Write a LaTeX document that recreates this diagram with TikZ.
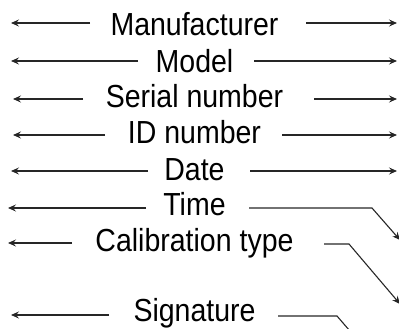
\documentclass[tikz,border=0pt]{standalone}
\usepackage{fontspec}
\setmainfont{Liberation Sans}
\usetikzlibrary{arrows.meta}
\tikzset{
  fieldlbl/.style={font=\fontsize{28.5}{30}\selectfont, anchor=base, inner sep=0pt, yscale=1.12},
  fieldarr/.style={draw=black!85, line width=1.1pt, -{Stealth[length=8pt, width=7pt, inset=3pt]}},
}
% name, y of arrows, baseline, label, left line start, left tip
\newcommand{\fieldrow}[6]{%
  \node[fieldlbl] (#1) at (194.5,#3) {#4};
  \coordinate (#1la) at (#5,#2);
  \coordinate (#1lt) at (#6,#2);
  \draw[fieldarr] (#1la) -- (#1lt);
}

\begin{document}
\begin{tikzpicture}[x=1pt, y=-1pt]
  \useasboundingbox (0,0) rectangle (399,329);
  \clip (0,0) rectangle (399,329);
  \fieldrow{man}{23}{36}{Manufacturer}{90}{11}
  \fieldrow{mod}{61}{73}{Model}{138}{11}
  \fieldrow{ser}{99}{107}{Serial number}{83}{13}
  \fieldrow{idn}{135}{143}{ID number}{105}{13}
  \fieldrow{dat}{171}{180}{Date}{148}{11}
  \fieldrow{tim}{208}{215}{Time}{146}{8}
  \fieldrow{cal}{243}{251.5}{Calibration type}{72}{8}
  \fieldrow{sig}{315}{321.5}{Signature}{109}{11}
  % right side, straight ones
  \foreach \n/\y/\a in {man/23/306, mod/61/254, ser/99/314, idn/135/282, dat/171/250} {
    \coordinate (\n ra) at (\a,\y);
    \coordinate (\n rt) at (397,\y);
    \draw[fieldarr] (\n ra) -- (\n rt);
  }
  % right side, bent ones
  \coordinate (timra) at (249,208);
  \coordinate (timrk) at (372,208);
  \coordinate (timrt) at (400,240);
  \draw[fieldarr] (timra) -- (timrk) -- (timrt);
  \coordinate (calra) at (324,244);
  \coordinate (calrk) at (349,244);
  \coordinate (calrt) at (400,304);
  \draw[fieldarr] (calra) -- (calrk) -- (calrt);
  \coordinate (sigra) at (278,316);
  \coordinate (sigrk) at (337,316);
  \coordinate (sigrt) at (387,374);
  \draw[fieldarr] (sigra) -- (sigrk) -- (sigrt);
\end{tikzpicture}
\end{document}
